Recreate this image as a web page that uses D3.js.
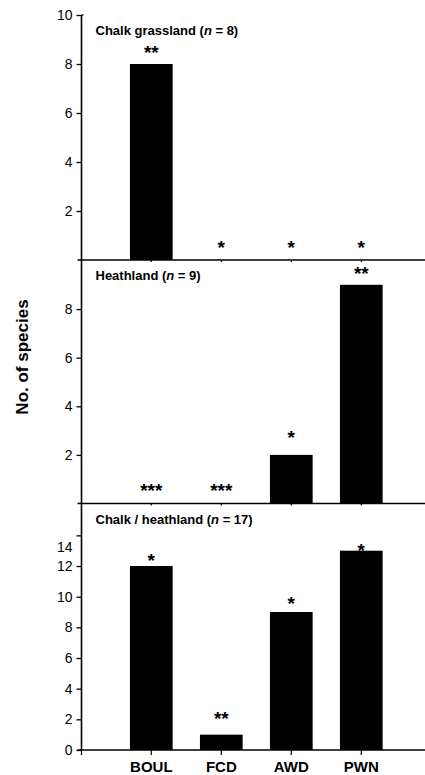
<!DOCTYPE html>
<html><head><meta charset="utf-8">
<script src="https://cdn.jsdelivr.net/npm/d3@7"></script>
<style>
html,body{margin:0;padding:0;background:#fff;}
svg{display:block;font-family:"Liberation Sans",Arial,sans-serif;}
</style></head>
<body>
<script>
// ---- data ----
const categories = ["BOUL", "FCD", "AWD", "PWN"];
const panelNames = ["Chalk grassland", "Heathland", "Chalk / heathland"];
const panelN = [8, 9, 17];
const chalkValues = [8, 0, 0, 0];
const heathValues = [0, 0, 2, 9];
const combinedValues = [12, 1, 9, 13];
const chalkSig = ["**", "*", "*", "*"];
const heathSig = ["***", "***", "*", "**"];
const combinedSig = ["*", "**", "*", "*"];
// vertical position (data units) of significance marks
const chalkSigAt = [8.65, 0.69, 0.69, 0.69];
const heathSigAt = [0.72, 0.72, 2.87, 9.63];
const combinedSigAt = [12.6, 2.3, 9.8, 13.3];
const chalkTicks = [2, 4, 6, 8, 10];
const heathTicks = [2, 4, 6, 8];
const combinedTicks = [0, 2, 4, 6, 8, 10, 12, 14];
const yMax = [10, 10, 16];
const yTitle = "No. of species";

// ---- layout ----
const W = 425, H = 775;
const axisX = 81.5, rightX = 425;
const panelBox = [[15, 260], [260.5, 503.5], [504.7, 750]];

const svg = d3.select("body").append("svg").attr("width", W).attr("height", H);

const x = d3.scaleBand().domain(categories)
  .range([axisX + 34.8, axisX + 314.8]).paddingInner(0.39).paddingOuter(0.195);

const panels = [
  {values: chalkValues, sig: chalkSig, sigAt: chalkSigAt, ticks: chalkTicks},
  {values: heathValues, sig: heathSig, sigAt: heathSigAt, ticks: heathTicks},
  {values: combinedValues, sig: combinedSig, sigAt: combinedSigAt, ticks: combinedTicks}
];

panels.forEach((p, i) => {
  const [top, base] = panelBox[i];
  const y = d3.scaleLinear().domain([0, yMax[i]]).range([base, top]);
  const g = svg.append("g");

  // bars
  g.selectAll("rect").data(categories).join("rect")
    .attr("x", d => x(d))
    .attr("width", x.bandwidth())
    .attr("y", (d, j) => y(p.values[j]))
    .attr("height", (d, j) => y(0) - y(p.values[j]))
    .attr("fill", "#000");

  // y axis
  const ax = g.append("g").attr("transform", `translate(${axisX},0)`)
    .call(d3.axisLeft(y).tickValues(p.ticks).tickSize(5).tickPadding(4).tickFormat(d3.format("d")));
  ax.select(".domain").remove();
  ax.selectAll("line").attr("stroke", "#000").attr("stroke-width", 1.3);
  ax.selectAll("text").attr("font-size", 14).attr("fill", "#000");
  if (i === 2) {
    ax.selectAll(".tick").filter(d => d === 14).select("text").attr("dy", "1.15em");
  }

  // baseline with category ticks
  const bx = g.append("g").attr("transform", `translate(0,${base})`)
    .call(d3.axisBottom(x).tickSize(i === 2 ? 5 : 2).tickPadding(3).tickFormat(i === 2 ? null : ""));
  bx.select(".domain").attr("d", `M${axisX - 4},0H${rightX}`).attr("stroke", "#000").attr("stroke-width", 1.6);
  bx.selectAll("line").attr("stroke", "#000").attr("stroke-width", 1.2);
  if (i === 2) {
    bx.selectAll("text").attr("font-size", 15).attr("font-weight", "bold").attr("fill", "#000").attr("dy", "0.9em");
    bx.append("line").attr("x1", axisX).attr("x2", axisX).attr("y1", 0).attr("y2", 5).attr("stroke", "#000").attr("stroke-width", 1.2);
  }

  // significance marks
  g.selectAll("text.sig").data(categories).join("text").attr("class", "sig")
    .attr("x", d => x(d) + x.bandwidth() / 2)
    .attr("y", (d, j) => y(p.sigAt[j]))
    .attr("dy", "0.56em")
    .attr("text-anchor", "middle")
    .attr("font-size", 19).attr("font-weight", "bold")
    .text((d, j) => p.sig[j]);

  // panel title
  const t = g.append("text").attr("x", axisX + 14).attr("y", top + 19.5)
    .attr("font-size", 13).attr("font-weight", "bold");
  t.append("tspan").text(panelNames[i] + " (");
  t.append("tspan").attr("font-style", "italic").text("n");
  t.append("tspan").text(" = " + panelN[i] + ")");
});

// top tick at 10 crossing axis slightly
svg.append("line").attr("x1", axisX).attr("x2", axisX + 2).attr("y1", panelBox[0][0]).attr("y2", panelBox[0][0])
  .attr("stroke", "#000").attr("stroke-width", 1.3);

// continuous y axis line
svg.append("line").attr("x1", axisX).attr("x2", axisX)
  .attr("y1", panelBox[0][0]).attr("y2", panelBox[2][1])
  .attr("stroke", "#000").attr("stroke-width", 1.6);

// y title
svg.append("text").attr("transform", `translate(28,357) rotate(-90)`)
  .attr("text-anchor", "middle").attr("font-size", 17).attr("font-weight", "bold").text(yTitle);
</script>
</body></html>
